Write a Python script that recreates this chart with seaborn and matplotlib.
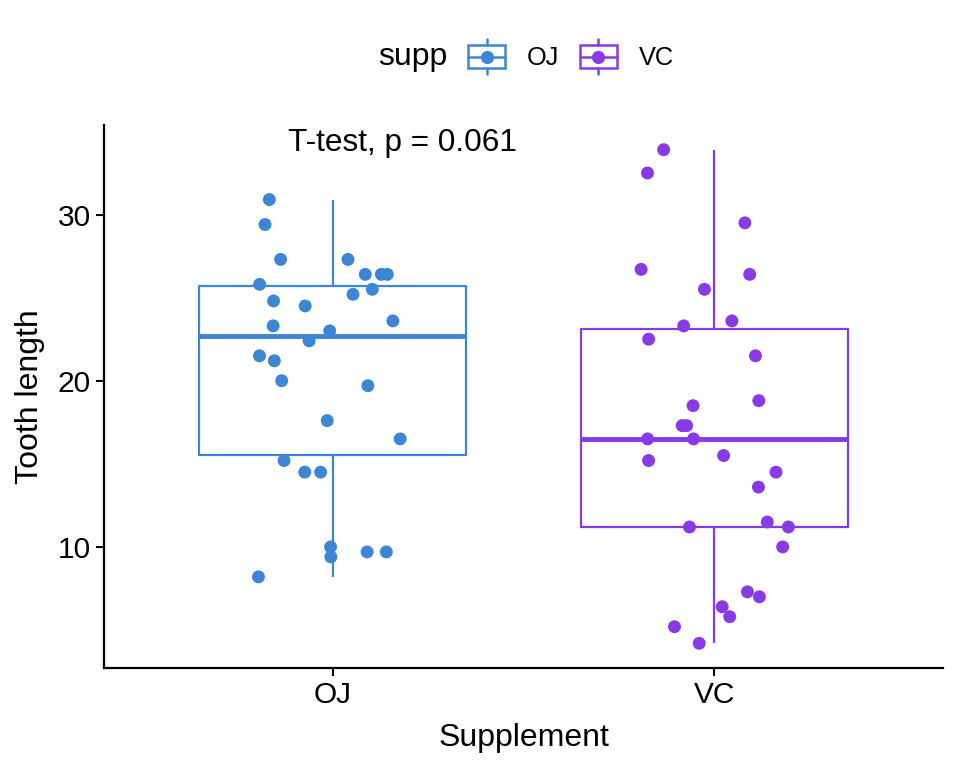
import numpy as np
import pandas as pd
import matplotlib
matplotlib.use("Agg")
import matplotlib.pyplot as plt
import seaborn as sns
from matplotlib.legend_handler import HandlerBase
from matplotlib.patches import Rectangle
from matplotlib.lines import Line2D

# ToothGrowth data
oj_len = [15.2, 21.5, 17.6, 9.7, 14.5, 10.0, 8.2, 9.4, 16.5, 9.7,
          19.7, 23.3, 23.6, 26.4, 20.0, 25.2, 25.8, 21.2, 14.5, 27.3,
          25.5, 26.4, 22.4, 24.5, 24.8, 30.9, 26.4, 27.3, 29.4, 23.0]
vc_len = [4.2, 11.5, 7.3, 5.8, 6.4, 10.0, 11.2, 11.2, 5.2, 7.0,
          16.5, 16.5, 15.2, 17.3, 22.5, 17.3, 13.6, 14.5, 18.8, 15.5,
          23.6, 18.5, 33.9, 25.5, 26.4, 32.5, 26.7, 21.5, 23.3, 29.5]
supp_levels = ["OJ", "VC"]
y_ticks = [10, 20, 30]
p_label = "T-test, p = 0.061"

df = pd.DataFrame({
    "supp": ["OJ"] * len(oj_len) + ["VC"] * len(vc_len),
    "len": oj_len + vc_len,
})

colors = {"OJ": "#3D86D5", "VC": "#883AE6"}

sns.set_style("white")
plt.rcParams["font.family"] = ["Liberation Sans", "DejaVu Sans"]
plt.rcParams["text.color"] = "black"
plt.rcParams["axes.labelcolor"] = "black"
plt.rcParams["xtick.color"] = "black"
plt.rcParams["ytick.color"] = "black"

fig = plt.figure(figsize=(9.6, 7.68), dpi=100)
ax = fig.add_axes([0.1083, 0.1302, 0.874, 0.7070])

sns.boxplot(data=df, x="supp", y="len", hue="supp", order=supp_levels,
            hue_order=supp_levels, palette=colors, fill=False, width=0.7,
            linewidth=1.6, showfliers=False, legend=False, ax=ax,
            medianprops=dict(linewidth=3.5),
            capprops=dict(visible=False))

np.random.seed(11)
sns.stripplot(data=df, x="supp", y="len", hue="supp", order=supp_levels,
              hue_order=supp_levels, palette=colors, jitter=0.2, size=9.3,
              linewidth=0, legend=False, ax=ax, zorder=3)

ax.set_xlim(-0.6, 1.6)
ax.set_ylim(2.715, 35.385)
ax.set_yticks(y_ticks)
ax.set_xlabel("Supplement", fontsize=23, labelpad=10)
ax.set_ylabel("Tooth length", fontsize=23, labelpad=9)
ax.tick_params(axis="both", labelsize=21.5, length=5.5, width=1.5,
               direction="out", colors="black", bottom=True, left=True, pad=4)
for s in ["top", "right"]:
    ax.spines[s].set_visible(False)
for s in ["left", "bottom"]:
    ax.spines[s].set_linewidth(1.6)
    ax.spines[s].set_color("black")

ax.text(-0.117, 34.3, p_label, ha="left", va="center", fontsize=22.7)


class BoxHandler(HandlerBase):
    def __init__(self, color):
        super().__init__()
        self.color = color

    def create_artists(self, legend, orig_handle, xdescent, ydescent,
                       width, height, fontsize, trans):
        c = self.color
        x0, y0 = -xdescent, -ydescent
        bh = height * 0.66
        by = y0 + (height - bh) / 2
        cx = x0 + width / 2
        cy = y0 + height / 2
        arts = [
            Line2D([cx, cx], [y0, by], color=c, lw=1.8, transform=trans),
            Line2D([cx, cx], [by + bh, y0 + height], color=c, lw=1.8, transform=trans),
            Rectangle((x0, by), width, bh, fill=False, edgecolor=c, lw=1.8, transform=trans),
            Line2D([x0, x0 + width], [cy, cy], color=c, lw=1.8, transform=trans),
            Line2D([cx], [cy], marker="o", markersize=8.5, color=c, lw=0, transform=trans),
        ]
        return arts


handles = [Rectangle((0, 0), 1, 1) for _ in supp_levels]
hmap = {h: BoxHandler(colors[l]) for h, l in zip(handles, supp_levels)}
fig.text(0.394, 0.926, "supp", fontsize=23, ha="left", va="center")
fig.legend(handles, supp_levels, handler_map=hmap, loc="center left",
           bbox_to_anchor=(0.4875, 0.926), ncol=2, frameon=False, fontsize=18.3,
           handlelength=1.46, handleheight=1.75, handletextpad=0.87,
           columnspacing=0.79, borderpad=0, borderaxespad=0)

fig.savefig("out.png", dpi=100)
